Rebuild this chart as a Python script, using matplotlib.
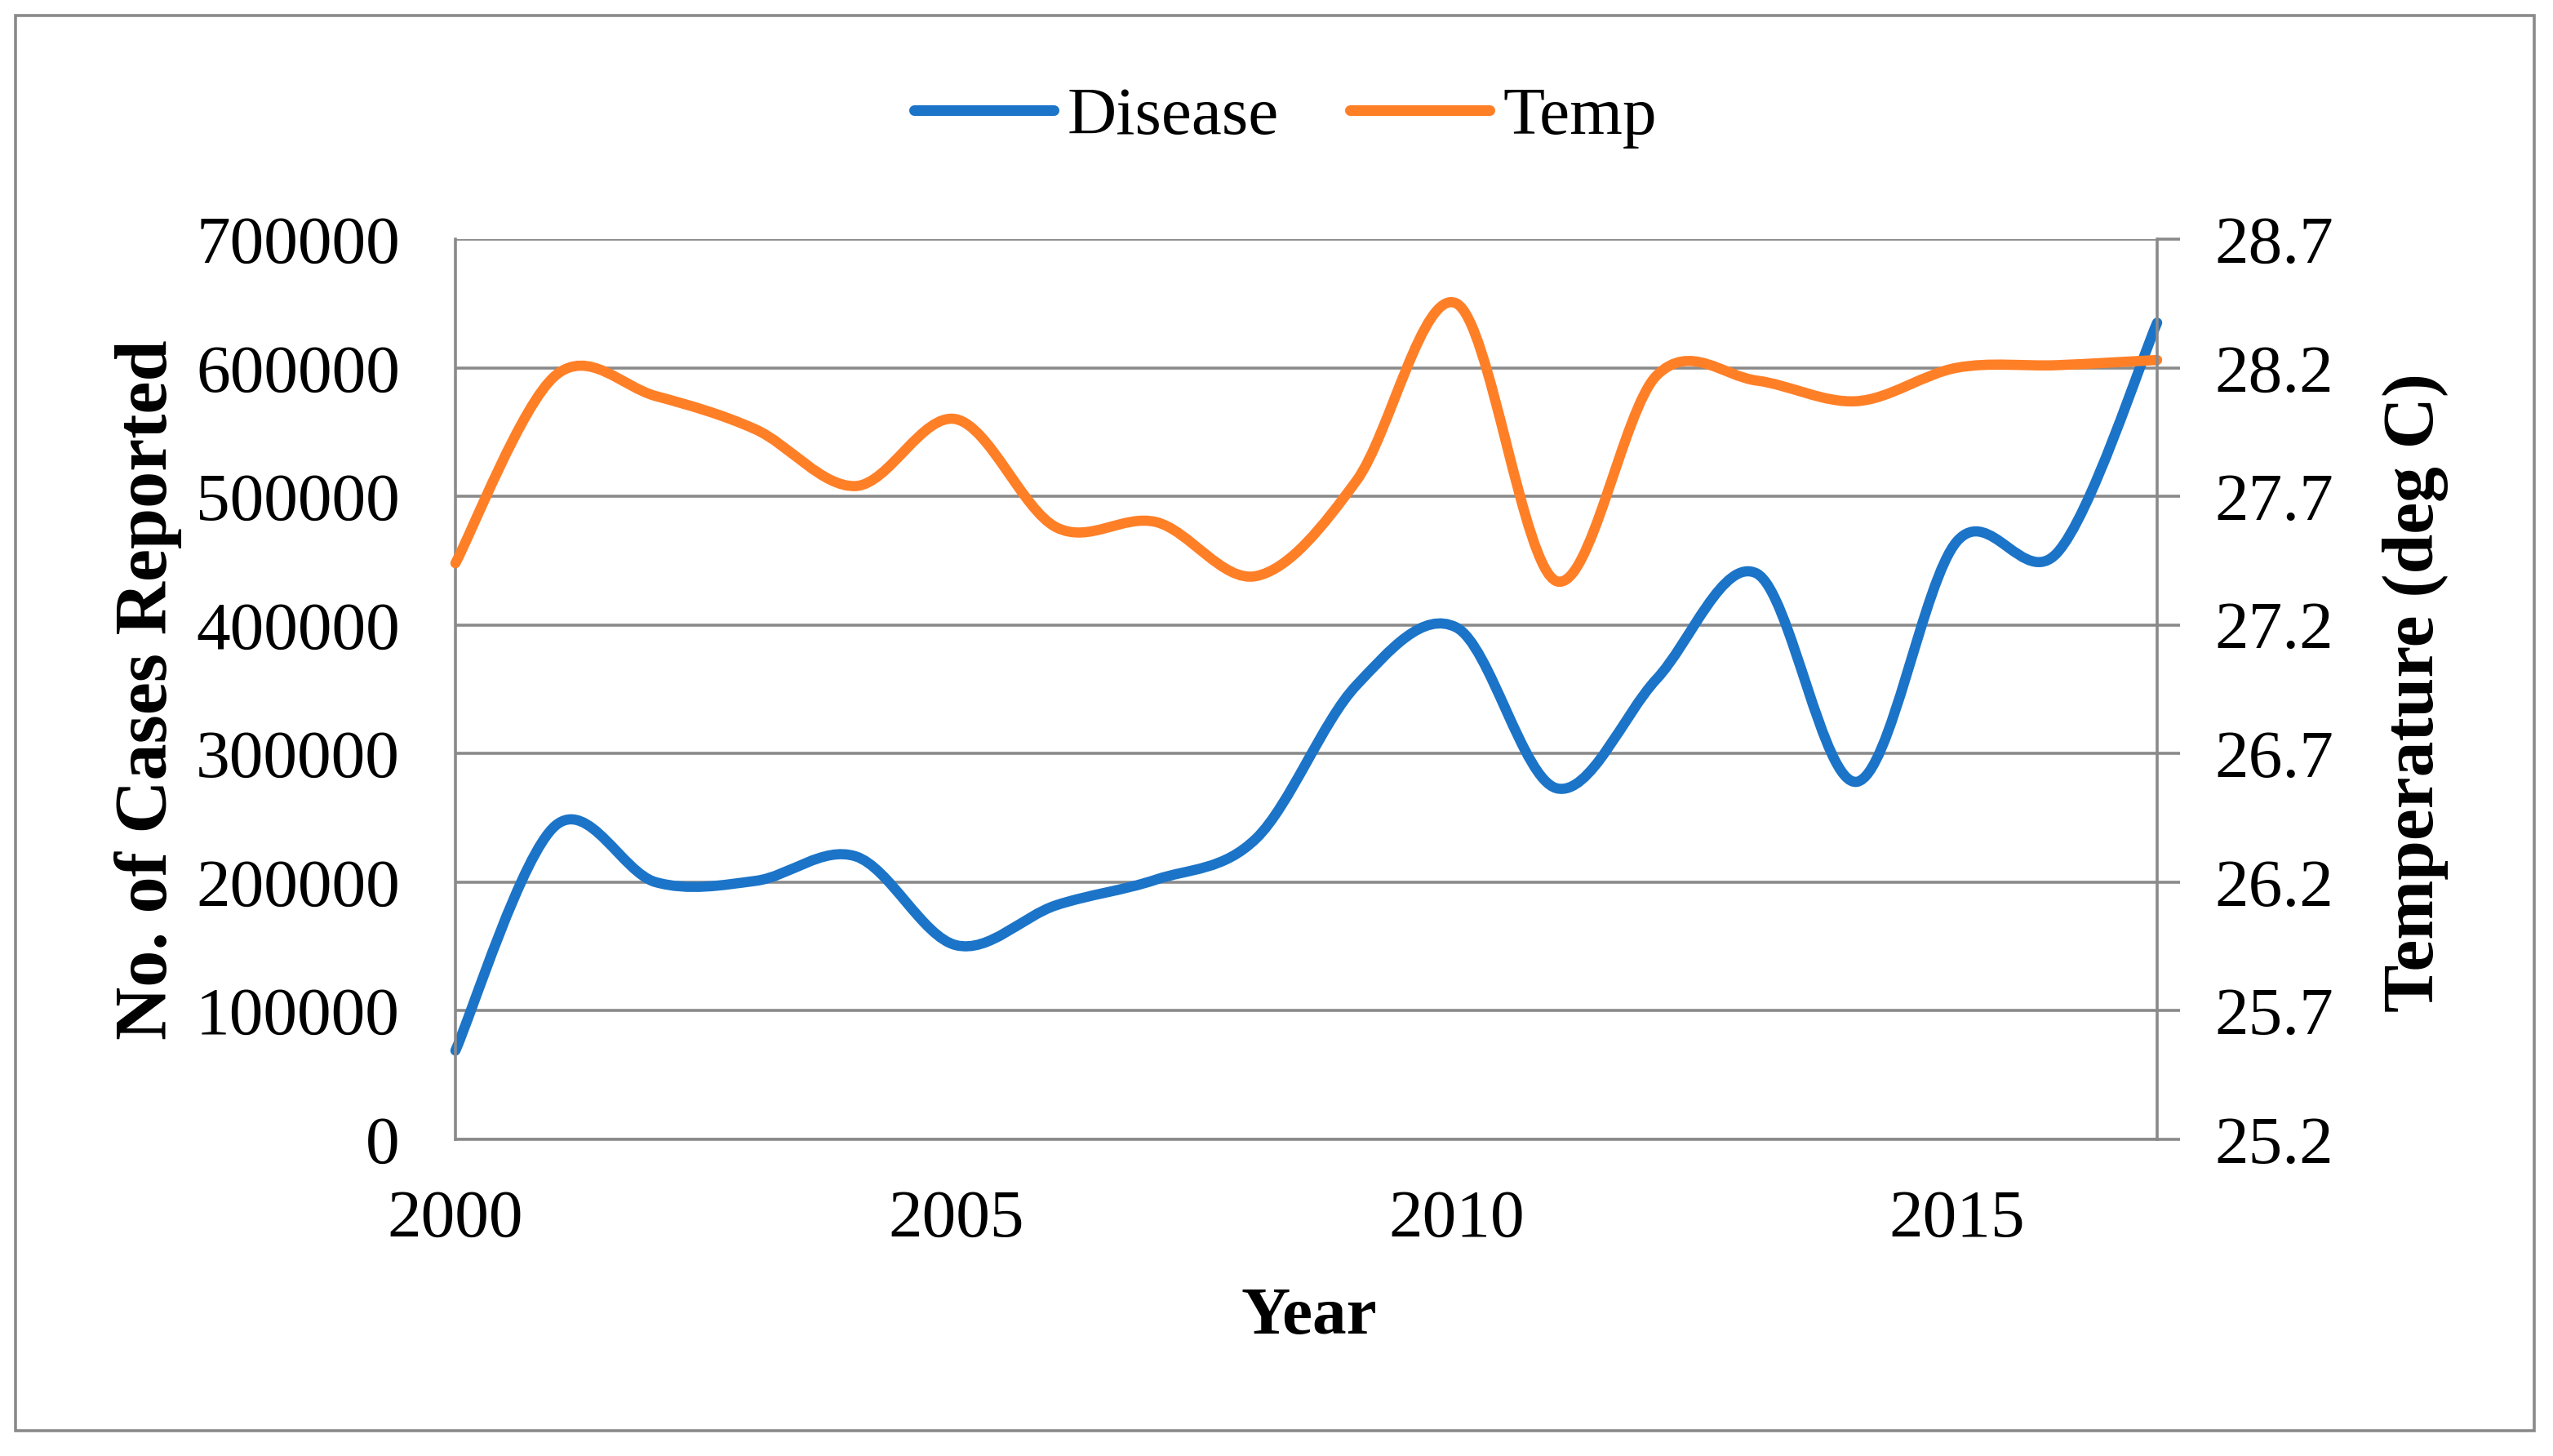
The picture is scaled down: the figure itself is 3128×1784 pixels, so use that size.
import numpy as np
import matplotlib
matplotlib.use("Agg")
import matplotlib.pyplot as plt
from matplotlib.path import Path
from matplotlib.patches import PathPatch, Rectangle
from matplotlib.lines import Line2D

# ---- data ----
years = [2000, 2001, 2002, 2003, 2004, 2005, 2006, 2007, 2008,
         2009, 2010, 2011, 2012, 2013, 2014, 2015, 2016, 2017]
disease = [69000, 244000, 200000, 201000, 220000, 151000, 182000, 202000, 234000,
           353000, 398000, 273000, 358000, 440000, 278000, 465000, 456000, 635000]
temp = [27.44, 28.17, 28.09, 27.96, 27.74, 28.00, 27.58, 27.60, 27.39,
        27.76, 28.45, 27.37, 28.17, 28.15, 28.07, 28.20, 28.21, 28.23]

left_ticks = [0, 100000, 200000, 300000, 400000, 500000, 600000, 700000]
left_labels = ["0", "100000", "200000", "300000", "400000", "500000", "600000", "700000"]
right_ticks = [25.2, 25.7, 26.2, 26.7, 27.2, 27.7, 28.2, 28.7]
right_labels = ["25.2", "25.7", "26.2", "26.7", "27.2", "27.7", "28.2", "28.7"]
x_ticks = [2000, 2005, 2010, 2015]
x_labels = ["2000", "2005", "2010", "2015"]

BLUE = "#1B74C8"
ORANGE = "#FF7F27"
GRID = "#8A8A8A"
SERIF = "Liberation Serif"

W, H = 3128, 1784
DPI = 200
fig = plt.figure(figsize=(W / DPI, H / DPI), dpi=DPI)
fig.patch.set_facecolor("white")

# axes placement (pixels)
L, R, T, B = 558, 2643, 293, 1396
ax = fig.add_axes([L / W, 1 - B / H, (R - L) / W, (B - T) / H])
ax2 = ax.twinx()


def smooth_path(xs, ys):
    """Catmull-Rom style cubic Bezier through the data points (Excel smoothed line)."""
    xs = np.asarray(xs, float)
    ys = np.asarray(ys, float)
    n = len(xs)
    px = np.concatenate([[xs[0]], xs, [xs[-1]]])
    py = np.concatenate([[ys[0]], ys, [ys[-1]]])
    verts = [(xs[0], ys[0])]
    codes = [Path.MOVETO]
    for i in range(n - 1):
        j = i + 1
        c1 = (px[j] + (px[j + 1] - px[j - 1]) / 6.0, py[j] + (py[j + 1] - py[j - 1]) / 6.0)
        c2 = (px[j + 1] - (px[j + 2] - px[j]) / 6.0, py[j + 1] - (py[j + 2] - py[j]) / 6.0)
        verts += [c1, c2, (xs[i + 1], ys[i + 1])]
        codes += [Path.CURVE4] * 3
    return Path(verts, codes)


LW = 4.5
p1 = PathPatch(smooth_path(years, disease), fill=False, ec=BLUE, lw=LW,
               capstyle="round", joinstyle="round", transform=ax.transData, clip_on=False)
ax.add_patch(p1)
p2 = PathPatch(smooth_path(years, temp), fill=False, ec=ORANGE, lw=LW,
               capstyle="round", joinstyle="round", transform=ax2.transData, clip_on=False)
ax2.add_patch(p2)

# left axis
ax.set_xlim(2000, 2017)
ax.set_ylim(0, 700000)
ax.set_yticks(left_ticks)
ax.set_yticklabels(left_labels, fontfamily=SERIF, fontsize=30)
ax.set_xticks(x_ticks)
ax.set_xticklabels(x_labels, fontfamily=SERIF, fontsize=30)
ax.tick_params(axis="y", length=0, pad=24.5, colors="black")
ax.tick_params(axis="x", length=0, pad=22, colors="black")
ax.yaxis.grid(True, color=GRID, lw=1.3)
ax.set_axisbelow(True)
for s in ["top", "right"]:
    ax.spines[s].set_visible(False)
for s in ["left", "bottom"]:
    ax.spines[s].set_color(GRID)
    ax.spines[s].set_linewidth(1.3)

# right axis
ax2.set_ylim(25.2, 28.7)
ax2.set_yticks(right_ticks)
ax2.set_yticklabels(right_labels, fontfamily=SERIF, fontsize=30)
ax2.tick_params(axis="y", direction="out", length=10, width=1.3, color=GRID,
                pad=15.5, labelcolor="black")
for s in ["top", "left", "bottom"]:
    ax2.spines[s].set_visible(False)
ax2.spines["right"].set_color(GRID)
ax2.spines["right"].set_linewidth(1.3)

# axis titles
fig.text(182 / W, 1 - 845 / H, "No. of Cases Reported", rotation=90,
         ha="center", va="center", fontfamily=SERIF, fontweight="bold", fontsize=32.5)
fig.text(2960 / W, 1 - 848 / H, "Temperature (deg C)", rotation=90,
         ha="center", va="center", fontfamily=SERIF, fontweight="bold", fontsize=31.5)
fig.text(1604 / W, 1 - 1634 / H, "Year", ha="center", va="baseline",
         fontfamily=SERIF, fontweight="bold", fontsize=30)

# legend
handles = [Line2D([], [], color=BLUE, lw=4.7, solid_capstyle="round"),
           Line2D([], [], color=ORANGE, lw=4.7, solid_capstyle="round")]
fig.legend(handles, ["Disease", "Temp"], loc="center",
           bbox_to_anchor=(1575 / W, 1 - 144 / H), ncol=2, frameon=False,
           prop={"family": SERIF, "size": 30}, handlelength=2.05,
           handletextpad=0.2, columnspacing=1.05)

# outer chart border
fig.add_artist(Rectangle((19 / W, 1 - 1753 / H), (3105 - 19) / W, (1753 - 19) / H,
                         transform=fig.transFigure, fill=False, ec=GRID, lw=1.3))

fig.savefig("out.png", dpi=DPI, facecolor="white")
